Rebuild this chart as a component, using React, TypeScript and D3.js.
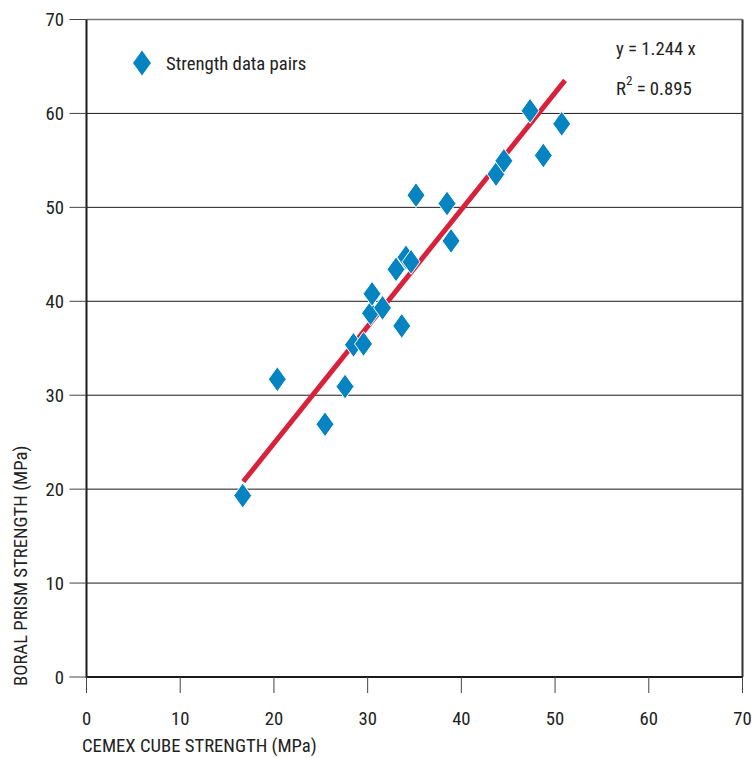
import React from "react";
import * as d3 from "d3";

// Paired strength results (MPa): CEMEX cube vs BORAL prism
const cubeStrength = [
  16.67, 20.36, 25.45, 27.59, 28.49, 29.56, 30.31, 30.47, 31.59, 33.03, 33.64,
  34.09, 34.63, 35.16, 38.47, 38.9, 43.7, 44.54, 47.33, 48.75, 50.71,
];
const prismStrength = [
  19.31, 31.7, 26.91, 30.92, 35.36, 35.46, 38.73, 40.79, 39.3, 43.4, 37.38,
  44.68, 44.2, 51.3, 50.41, 46.43, 53.54, 54.95, 60.28, 55.52, 58.89,
];
const xTicks = [0, 10, 20, 30, 40, 50, 60, 70];
const yTicks = [0, 10, 20, 30, 40, 50, 60, 70];
const slope = 1.244;
const rSquared = "0.895";
const fitRange = [16.73, 51.06];

const FONT = "'Liberation Sans Narrow', 'Arial Narrow', 'Roboto Condensed', sans-serif";
const BLUE = "#0584c1";
const RED = "#d8213a";
const FS = 18.7;

export default function App() {
  const left = 86.5;
  const right = 742.5;
  const top = 19.5;
  const bottom = 677;

  const x = d3.scaleLinear().domain([0, 70]).range([left, right]);
  const y = d3.scaleLinear().domain([0, 70]).range([bottom, top]);

  const diamond = (cx: number, cy: number) => {
    const hw = 9;
    const hh = 12.5;
    return `M${cx},${cy - hh}L${cx + hw},${cy}L${cx},${cy + hh}L${cx - hw},${cy}Z`;
  };

  const fitLine = d3
    .line<number>()
    .x((d) => x(d))
    .y((d) => y(slope * d));

  const points = cubeStrength.map((c, i) => ({ c, p: prismStrength[i] }));

  return (
    <svg
      width={756}
      height={758}
      style={{ position: "absolute", left: 0, top: 0, background: "#fff" }}
      fontFamily={FONT}
    >
      {/* horizontal grid */}
      {yTicks
        .filter((t) => t > 0 && t < 70)
        .map((t) => (
          <line key={`g${t}`} x1={left} x2={right} y1={y(t)} y2={y(t)} stroke="#1a1a1a" strokeWidth={1} />
        ))}

      {/* frame */}
      <line x1={left} x2={right} y1={top} y2={top} stroke="#777" strokeWidth={1.5} />
      <line x1={right} x2={right} y1={top} y2={bottom} stroke="#333" strokeWidth={2} />
      <line x1={left} x2={left} y1={top} y2={bottom + 1} stroke="#1a1a1a" strokeWidth={2} />
      <line x1={left} x2={right} y1={bottom} y2={bottom} stroke="#1a1a1a" strokeWidth={2} />

      {/* y ticks */}
      {yTicks.map((t) => (
        <g key={`y${t}`}>
          <line x1={left - 17} x2={left} y1={y(t)} y2={y(t)} stroke="#444" strokeWidth={1} />
          <text x={64} y={y(t)} dy="0.35em" textAnchor="end" fontSize={FS} fill="#222">
            {t}
          </text>
        </g>
      ))}

      {/* x ticks */}
      {xTicks.map((t) => (
        <g key={`x${t}`}>
          <line x1={x(t)} x2={x(t)} y1={bottom} y2={bottom + 16} stroke="#444" strokeWidth={1} />
          <text x={x(t)} y={725} textAnchor="middle" fontSize={FS} fill="#222">
            {t}
          </text>
        </g>
      ))}

      {/* axis titles */}
      <text x={82} y={752} fontSize={FS} fill="#222">
        CEMEX CUBE STRENGTH (MPa)
      </text>
      <text transform="translate(27,686) rotate(-90)" fontSize={FS} fill="#222">
        BORAL PRISM STRENGTH (MPa)
      </text>

      {/* regression line */}
      <path d={fitLine(fitRange) ?? ""} stroke={RED} strokeWidth={5} fill="none" />

      {/* data pairs */}
      {points.map((d, i) => (
        <path key={i} d={diamond(x(d.c), y(d.p))} fill={BLUE} stroke="#fff" strokeWidth={1} />
      ))}

      {/* legend */}
      <path d={diamond(142, 63)} fill={BLUE} />
      <text x={166} y={63} dy="0.35em" fontSize={FS} fill="#222">
        Strength data pairs
      </text>

      {/* fit annotation */}
      <text x={616} y={48} dy="0.35em" fontSize={FS} fill="#222">
        {`y = ${slope} x`}
      </text>
      <text x={616} y={88} dy="0.35em" fontSize={FS} fill="#222">
        R
        <tspan dy={-10} fontSize={13}>2</tspan>
        <tspan dy={10}>{` = ${rSquared}`}</tspan>
      </text>
    </svg>
  );
}
